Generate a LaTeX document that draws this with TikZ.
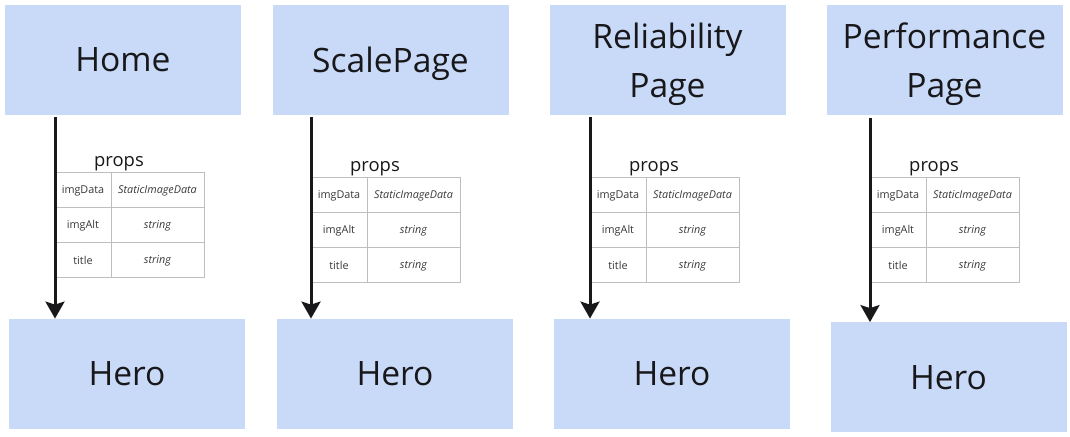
\documentclass[tikz,border=0pt]{standalone}
\usepackage{fontspec}
\setmainfont{Open Sans}
\usetikzlibrary{positioning,arrows.meta}
\definecolor{pageblue}{RGB}{201,218,249}
\definecolor{inkblack}{RGB}{24,24,26}
\definecolor{gridgray}{RGB}{190,190,190}
\definecolor{celltext}{RGB}{55,55,55}

\tikzset{
  compbox/.style={fill=pageblue, minimum width=118pt, minimum height=55pt, inner sep=0pt,
    align=center, text=inkblack, text depth=0pt, font=\fontsize{16.8}{24.5}\selectfont},
  keycell/.style={draw=gridgray, line width=0.5pt, minimum width=28pt, minimum height=17.5pt,
    inner sep=0pt, outer sep=0pt, text=celltext, font=\fontsize{5.4}{6.5}\selectfont},
  typecell/.style={keycell, minimum width=46.5pt, font=\fontsize{5.4}{6.5}\selectfont\itshape},
  propslabel/.style={font=\fontsize{9.2}{10}\selectfont, text=inkblack, inner sep=1pt},
  flow/.style={inkblack, line width=1.5pt, shorten <=1pt,
    -{Stealth[width=9.5pt,length=8.5pt,inset=1.5pt]}}
}

\begin{document}
\begin{tikzpicture}[x=0.5pt, y=-0.5pt]
    \useasboundingbox (0,0) rectangle (1070,437);

    % one column per page: page box, props table, arrow, Hero box
    \foreach \i/\title/\px/\py/\hx/\hy/\tx/\ty in {
        1/Home/123/60/127/374/55/173,
        2/ScalePage/390.5/60/395/374/311/178,
        3/{Reliability\\Page}/667.5/60/672/374/590/178,
        4/{Performance\\Page}/944.5/60.5/948.5/377.5/870/178} {
        \node[compbox] (page\i) at (\px,\py) {\title};
        \node[compbox] (hero\i) at (\hx,\hy) {Hero};

        % props table
        \foreach \key/\type [count=\r] in {imgData/StaticImageData, imgAlt/string, title/string} {
            \node[keycell, anchor=north west] (key\i-\r) at (\tx,{\ty+35*(\r-1)}) {\key};
            \node[typecell, right=0pt of key\i-\r] (type\i-\r) {\type};
        }
        \node[propslabel, anchor=south] (props\i) at ([xshift=4pt]key\i-1.north east) {props};

        \draw[flow] (page\i.south -| key\i-1.west) -- (hero\i.north -| key\i-1.west);
    }
\end{tikzpicture}
\end{document}
